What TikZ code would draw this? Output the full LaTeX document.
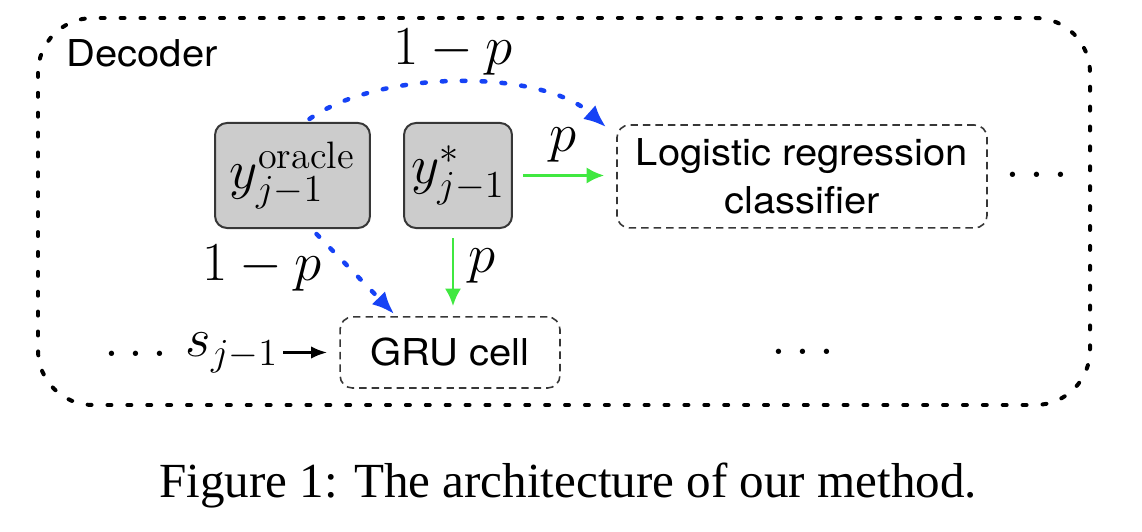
\documentclass[tikz,border=0pt]{standalone}
\usepackage{fontspec}
\newfontfamily\labelsans[FakeStretch=1.08]{TeX Gyre Heros}
\newfontfamily\captionserif{Liberation Serif}
\usetikzlibrary{arrows.meta,calc}

\definecolor{flowblue}{RGB}{22,66,245}
\definecolor{flowgreen}{RGB}{64,232,64}
\definecolor{boxgray}{RGB}{204,204,204}
\definecolor{edgegray}{RGB}{55,55,55}

\tikzset{
  decoderframe/.style={line width=1.5pt, line cap=round,
    dash pattern=on 1.5pt off 6pt, rounded corners=20.7pt},
  tokenbox/.style={draw=edgegray, fill=boxgray, line width=0.75pt,
    rounded corners=4.5pt, inner sep=0pt,
    font=\fontsize{20.74}{24}\selectfont},
  modulebox/.style={draw=edgegray, line width=0.6pt, dash pattern=on 2.8pt off 1.9pt,
    rounded corners=4.7pt, inner sep=0pt, align=center,
    font=\labelsans\fontsize{13.95}{18.1}\selectfont},
  sanslabel/.style={inner sep=0pt, font=\labelsans\fontsize{13.95}{18.1}\selectfont},
  mathlabel/.style={inner sep=0pt, font=\fontsize{20.74}{24}\selectfont},
  blueflow/.style={draw=flowblue, line width=1.7pt, line cap=round,
    dash pattern=on 1.4pt off 6.1pt,
    -{Latex[length=8.5pt,width=7pt,fill=flowblue]}},
  greenflow/.style={draw=flowgreen, line width=1.1pt,
    -{Latex[length=6.6pt,width=6.1pt,fill=flowgreen]}},
  stateflow/.style={draw=black, line width=1.05pt,
    -{Latex[length=6.1pt,width=4.7pt]}},
}

\begin{document}
\begin{tikzpicture}[x=0.377pt, y=-0.377pt]
  \useasboundingbox (0,0) rectangle (1142,532);

  % decoder frame
  \draw[decoderframe] (38,18) rectangle (1090,405);
  \node[sanslabel, anchor=base west] (title) at (66,67) {Decoder};

  % input tokens
  \node[tokenbox, minimum width=58.4pt, minimum height=39.6pt] (oracle)
    at (292.5,175.5) {$y^{\mathrm{oracle}}_{j-1}$};
  \node[tokenbox, minimum width=40.7pt, minimum height=39.6pt] (ystar)
    at (458,175.5) {$y^{*}_{j-1}$};

  % modules
  \node[modulebox, minimum width=139.5pt, minimum height=38.8pt] (logit)
    at (802,176.5) {Logistic regression\\classifier};
  \node[modulebox, minimum width=82.9pt, minimum height=26.8pt] (gru)
    at (450,352.5) {GRU cell};

  % ellipses and previous state
  \node[mathlabel, anchor=base] (dotsright) at (1037,178) {$\ldots$};
  \node[mathlabel, anchor=base] (dotsmid) at (803,355) {$\ldots$};
  \node[mathlabel, anchor=base east] (sprev) at (279,357) {$\ldots\,s_{j-1}$};

  % sampling labels
  \node[mathlabel, anchor=base] (ptop) at (453,65) {$1-p$};
  \node[mathlabel, anchor=base] (plow) at (262,281) {$1-p$};
  \node[mathlabel, anchor=base] (pright) at (563,152) {$p$};
  \node[mathlabel, anchor=base] (pdown) at (482,273) {$p$};

  % oracle word paths
  \draw[blueflow] ($(oracle.north)+(17,-3)$)
    .. controls (380,69) and (541,69) .. ($(logit.north west)+(-10,3)$);
  \draw[blueflow] ($(oracle.south)+(24,5)$) -- ($(gru.north west)+(55,-2)$);

  % predicted word paths
  \draw[greenflow] ($(ystar.east)+(10,0)$) -- ($(ystar.east -| logit.west)+(-12,0)$);
  \draw[greenflow] ($(ystar.south)+(-5,9)$) -- ($(ystar.south |- gru.north)+(-5,-10)$);

  % hidden state input
  \draw[stateflow] ($(sprev.east |- gru.west)+(4,0)$) -- ($(gru.west)+(-12,0)$);

  % caption
  \node[anchor=base, inner sep=0pt, font=\captionserif\fontsize{18.5}{22}\selectfont]
    (caption) at (568,497) {Figure 1: The architecture of our method.};
\end{tikzpicture}
\end{document}
